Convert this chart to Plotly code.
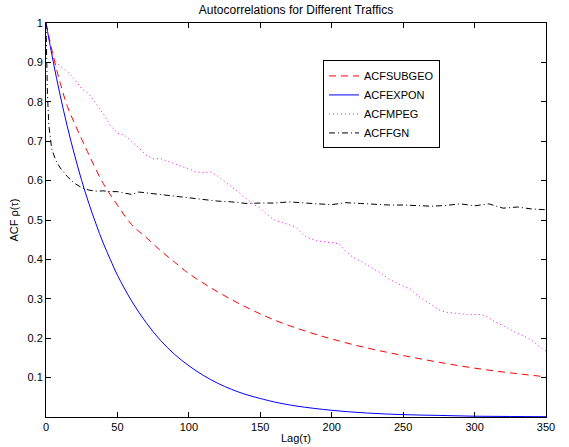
import plotly.graph_objects as go

# ---- data ----
lag_subgeo = [0, 5, 10, 15, 20, 25, 30, 40, 50, 60, 70, 80, 90, 100, 120, 140, 160, 180, 200, 225, 250, 275, 300, 325, 350]
acf_subgeo = [1.0, 0.918, 0.847, 0.788, 0.745, 0.705, 0.666, 0.593, 0.538, 0.488, 0.456, 0.423, 0.393, 0.364,
              0.318, 0.279, 0.246, 0.220, 0.198, 0.175, 0.156, 0.139, 0.124, 0.112, 0.102]

lag_expon = [0, 5, 10, 15, 20, 25, 30, 35, 40, 45, 50, 60, 70, 80, 90, 100, 110, 120, 130, 140, 150, 160,
             175, 200, 225, 250, 275, 300, 325, 350]
acf_expon = [1.0, 0.903, 0.815, 0.736, 0.665, 0.600, 0.542, 0.490, 0.442, 0.400, 0.360, 0.294, 0.240, 0.195,
             0.159, 0.130, 0.106, 0.086, 0.070, 0.057, 0.047, 0.038, 0.028, 0.017, 0.010, 0.006, 0.004, 0.002,
             0.0013, 0.0008]

lag_mpeg = [0, 3, 6, 10, 15, 20, 25, 30, 35, 40, 45, 50, 55, 60, 65, 70, 75, 80, 85, 90, 95, 100, 105, 110,
            115, 120, 125, 130, 135, 140, 145, 150, 155, 160, 165, 170, 175, 180, 185, 190, 195, 200, 205, 210,
            215, 220, 225, 230, 235, 240, 245, 250, 255, 260, 265, 270, 275, 280, 285, 290, 295, 300, 305, 310,
            315, 320, 325, 330, 335, 340, 345, 350]
acf_mpeg = [1.0, 0.94, 0.905, 0.89, 0.877, 0.857, 0.833, 0.82, 0.795, 0.77, 0.74, 0.72, 0.715, 0.70, 0.683,
            0.665, 0.655, 0.656, 0.65, 0.643, 0.636, 0.63, 0.622, 0.62, 0.622, 0.612, 0.598, 0.585, 0.57, 0.555,
            0.54, 0.53, 0.513, 0.50, 0.494, 0.488, 0.482, 0.462, 0.452, 0.447, 0.445, 0.443, 0.44, 0.42, 0.405,
            0.396, 0.386, 0.375, 0.364, 0.35, 0.34, 0.332, 0.325, 0.308, 0.296, 0.284, 0.272, 0.266, 0.264,
            0.263, 0.26, 0.26, 0.26, 0.252, 0.24, 0.232, 0.222, 0.212, 0.205, 0.195, 0.18, 0.167]

lag_fgn = [0, 1, 2, 4, 7, 10, 15, 20, 25, 30, 35, 40, 45, 50, 55, 60, 65, 70, 75, 80, 90, 100, 110, 120, 130,
           140, 150, 160, 170, 180, 190, 200, 210, 220, 230, 240, 250, 260, 270, 280, 290, 300, 310, 320, 330,
           340, 350]
acf_fgn = [1.0, 0.82, 0.74, 0.68, 0.65, 0.632, 0.61, 0.593, 0.582, 0.576, 0.573, 0.574, 0.572, 0.572, 0.568,
           0.565, 0.571, 0.569, 0.566, 0.564, 0.56, 0.556, 0.553, 0.548, 0.546, 0.542, 0.543, 0.543, 0.546,
           0.543, 0.541, 0.539, 0.544, 0.542, 0.540, 0.538, 0.538, 0.536, 0.535, 0.537, 0.541, 0.536, 0.541,
           0.530, 0.533, 0.528, 0.526]

x_ticks = [0, 50, 100, 150, 200, 250, 300, 350]
y_ticks = [0.1, 0.2, 0.3, 0.4, 0.5, 0.6, 0.7, 0.8, 0.9, 1.0]
y_tick_text = ["0.1", "0.2", "0.3", "0.4", "0.5", "0.6", "0.7", "0.8", "0.9", "1"]

FONT = "Liberation Sans, Arial, Helvetica, sans-serif"

fig = go.Figure()
fig.add_trace(go.Scatter(x=lag_subgeo, y=acf_subgeo, mode="lines", name="ACFSUBGEO",
                         line=dict(color="#ff0000", width=1, dash="7px,5px", shape="spline")))
fig.add_trace(go.Scatter(x=lag_expon, y=acf_expon, mode="lines", name="ACFEXPON",
                         line=dict(color="#0000ff", width=1, shape="spline")))
fig.add_trace(go.Scatter(x=lag_mpeg, y=acf_mpeg, mode="lines", name="ACFMPEG",
                         line=dict(color="#ff00ff", width=1, dash="1px,3px")))
fig.add_trace(go.Scatter(x=lag_fgn, y=acf_fgn, mode="lines", name="ACFFGN",
                         line=dict(color="#000000", width=1, dash="6px,3px,1px,3px")))

fig.update_layout(
    width=569, height=447,
    margin=dict(l=46, r=23, t=23, b=30, autoexpand=False),
    paper_bgcolor="white", plot_bgcolor="white",
    font=dict(family=FONT, size=11, color="black"),
    title=dict(text="Autocorrelations for Different Traffics", x=296 / 569, xanchor="center",
               y=1 - 10 / 447, yanchor="middle", font=dict(size=12)),
    showlegend=True,
    legend=dict(x=0.554, y=0.905, xanchor="left", yanchor="top",
                bordercolor="black", borderwidth=1, bgcolor="white",
                font=dict(size=11), itemwidth=30, tracegroupgap=0),
)
fig.update_xaxes(range=[0, 350], tickvals=x_ticks, ticks="inside", ticklen=5, tickcolor="black",
                 showline=True, linecolor="black", linewidth=1, mirror="ticks", showgrid=False,
                 zeroline=False, automargin=False,
                 title=dict(text="Lag(τ)", standoff=2, font=dict(size=11)),
                 tickfont=dict(size=11))
fig.update_yaxes(range=[0, 1], tickvals=y_ticks, ticktext=y_tick_text, ticks="inside", ticklen=5,
                 tickcolor="black", showline=True, linecolor="black", linewidth=1, mirror="ticks",
                 showgrid=False, zeroline=False, automargin=False,
                 title=dict(text="ACF ρ(τ)", standoff=6, font=dict(size=11)),
                 tickfont=dict(size=11))

fig.write_html("out.html", config={"displayModeBar": False},
               post_script="document.body.style.margin='0';document.body.style.overflow='hidden';")
